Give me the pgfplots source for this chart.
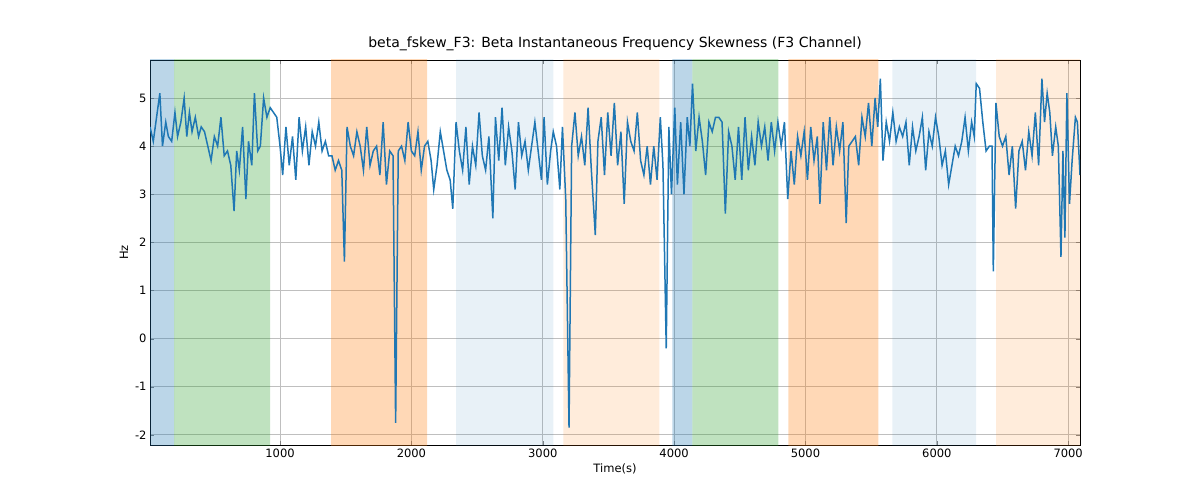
\documentclass[border=0pt]{standalone}
\usepackage{pgfplots}
\pgfplotsset{compat=1.18}
\usepackage{fontspec}
\setmainfont{DejaVu Sans}
\definecolor{tb}{HTML}{1F77B4}
\definecolor{tg}{HTML}{2CA02C}
\definecolor{to}{HTML}{FF7F0E}
\begin{document}
\begin{tikzpicture}
\begin{axis}[name=ax,
 at={(0,0)}, width=930pt, height=385pt, scale only axis,
 xmin=10,xmax=7090,ymin=-2.21,ymax=5.79,
 xtick={1000,2000,3000,4000,5000,6000,7000},
 ytick={-2,-1,0,1,2,3,4,5},
 grid=major, grid style={gray!50,line width=0.8pt},
 tick label style={font=\fontsize{11.5}{13}\selectfont}, /pgf/number format/assume math mode=true,
 /pgf/number format/set thousands separator={},
 xlabel={Time(s)}, ylabel={Hz}, label style={font=\fontsize{11.5}{13}\selectfont},
 title={beta\_fskew\_F3: Beta Instantaneous Frequency Skewness (F3 Channel)},
 title style={font=\fontsize{14}{16}\selectfont},
 axis line style={line width=0.8pt}]
\def\band#1#2#3#4{\addplot[draw=none,fill=#3,fill opacity=#4,forget plot] coordinates {(#1,-3) (#2,-3) (#2,7) (#1,7)} \closedcycle;}
\band{10}{193}{tb}{0.3}
\band{193}{924}{tg}{0.3}
\band{1389}{2120}{to}{0.3}
\band{2341}{3080}{tb}{0.1}
\band{3156}{3887}{to}{0.15}
\band{3986}{4139}{tb}{0.3}
\band{4139}{4794}{tg}{0.3}
\band{4870}{5555}{to}{0.3}
\band{5662}{6300}{tb}{0.1}
\band{6452}{7090}{to}{0.15}
\addplot[tb,line width=1.5pt] table {
x y
10 4.4
35 4.1
60 4.6
85 5.1
105 4.0
130 4.5
150 4.2
175 4.1
200 4.7
220 4.2
245 4.5
270 5.0
290 4.2
310 4.7
330 4.3
355 4.6
380 4.2
400 4.4
425 4.3
450 4.0
475 3.7
500 4.2
525 4.0
550 4.6
575 3.8
600 3.9
625 3.6
650 2.65
670 3.9
690 3.5
715 4.4
740 2.9
760 4.1
785 3.6
805 5.1
830 3.9
850 4.0
875 5.0
900 4.6
925 4.8
950 4.7
975 4.6
1000 4.0
1020 3.4
1045 4.4
1070 3.6
1095 4.2
1120 3.3
1145 4.6
1170 3.9
1195 4.4
1220 3.6
1245 4.3
1270 4.0
1295 4.5
1320 3.9
1345 4.1
1370 3.8
1395 3.8
1420 3.5
1445 3.7
1470 3.5
1490 1.6
1510 4.4
1535 4.0
1560 3.8
1585 4.3
1610 4.0
1635 3.5
1660 4.4
1685 3.6
1710 3.9
1735 4.0
1760 3.4
1785 4.5
1810 3.2
1835 3.9
1860 3.8
1880 -1.75
1900 3.9
1925 4.0
1950 3.7
1975 4.5
2000 3.9
2025 3.8
2050 4.3
2075 3.5
2100 4.0
2125 4.1
2150 3.7
2170 3.1
2195 3.6
2220 4.3
2245 3.9
2270 3.5
2295 3.3
2315 2.7
2340 4.5
2365 3.9
2390 3.5
2415 4.4
2440 3.2
2465 4.0
2490 3.6
2515 4.7
2540 3.8
2565 3.5
2590 4.2
2620 2.5
2640 4.6
2665 3.7
2690 4.8
2715 3.6
2740 4.4
2765 3.9
2790 3.1
2815 4.5
2840 3.8
2865 4.1
2890 3.5
2915 4.0
2940 4.5
2965 3.9
2990 3.3
3010 4.6
3035 3.2
3060 3.9
3080 4.3
3105 4.0
3130 3.1
3150 4.4
3175 2.9
3200 -1.85
3220 4.0
3245 4.7
3270 3.8
3295 4.2
3320 3.6
3345 4.8
3370 3.5
3400 2.15
3420 4.1
3445 4.6
3470 3.4
3495 4.7
3520 3.8
3545 4.9
3570 3.6
3595 4.3
3620 2.8
3645 4.5
3670 4.1
3695 3.9
3720 4.7
3745 3.7
3770 3.4
3795 4.0
3820 3.2
3845 4.0
3870 3.3
3895 4.6
3915 3.6
3940 -0.2
3960 4.4
3980 3.0
4005 4.8
4025 3.2
4050 4.5
4075 3.0
4100 4.6
4120 4.0
4140 5.3
4165 3.9
4190 4.6
4215 4.1
4240 3.4
4265 4.5
4290 4.3
4315 4.6
4340 4.6
4365 4.5
4390 2.6
4415 4.3
4440 4.0
4465 3.3
4490 4.4
4515 3.3
4540 4.6
4565 3.5
4590 4.2
4615 3.6
4640 4.5
4665 4.0
4690 4.4
4715 3.7
4740 4.5
4765 3.9
4790 4.5
4815 4.0
4840 4.5
4865 2.9
4890 3.9
4915 3.2
4940 4.2
4965 3.8
4990 4.3
5015 3.3
5040 4.4
5065 3.7
5090 4.2
5110 2.8
5135 4.5
5160 3.5
5185 4.6
5210 3.6
5235 4.4
5260 3.9
5285 4.5
5310 2.4
5330 4.0
5355 4.1
5380 4.2
5405 3.6
5430 4.6
5455 4.2
5480 4.9
5505 4.0
5530 5.0
5550 4.4
5570 5.4
5590 3.7
5615 4.5
5640 4.1
5665 4.7
5690 4.1
5715 4.4
5740 4.2
5765 4.5
5790 3.6
5815 4.4
5840 3.9
5865 4.2
5890 4.6
5915 3.5
5940 4.3
5965 4.0
5990 4.6
6015 4.2
6040 3.6
6065 3.9
6090 3.2
6115 3.6
6140 4.0
6165 3.8
6190 4.1
6215 4.6
6240 3.9
6265 4.5
6285 4.2
6300 5.3
6325 5.2
6350 4.5
6375 3.9
6400 4.0
6420 4.0
6430 1.4
6450 4.9
6475 4.2
6500 4.0
6525 4.2
6550 3.4
6575 4.0
6600 2.7
6625 3.9
6650 4.1
6675 3.5
6700 4.3
6725 3.8
6750 4.7
6775 3.6
6800 5.4
6820 4.5
6840 5.1
6860 4.7
6880 3.8
6905 4.4
6925 4.0
6945 1.7
6960 3.9
6975 2.1
6990 5.1
7010 2.8
7030 3.7
7055 4.6
7070 4.5
7090 3.4
};
\end{axis}
\useasboundingbox (ax.south west)++(-150pt,-55pt) rectangle ([shift={(120pt,60pt)}]ax.north east);
\end{tikzpicture}
\end{document}
